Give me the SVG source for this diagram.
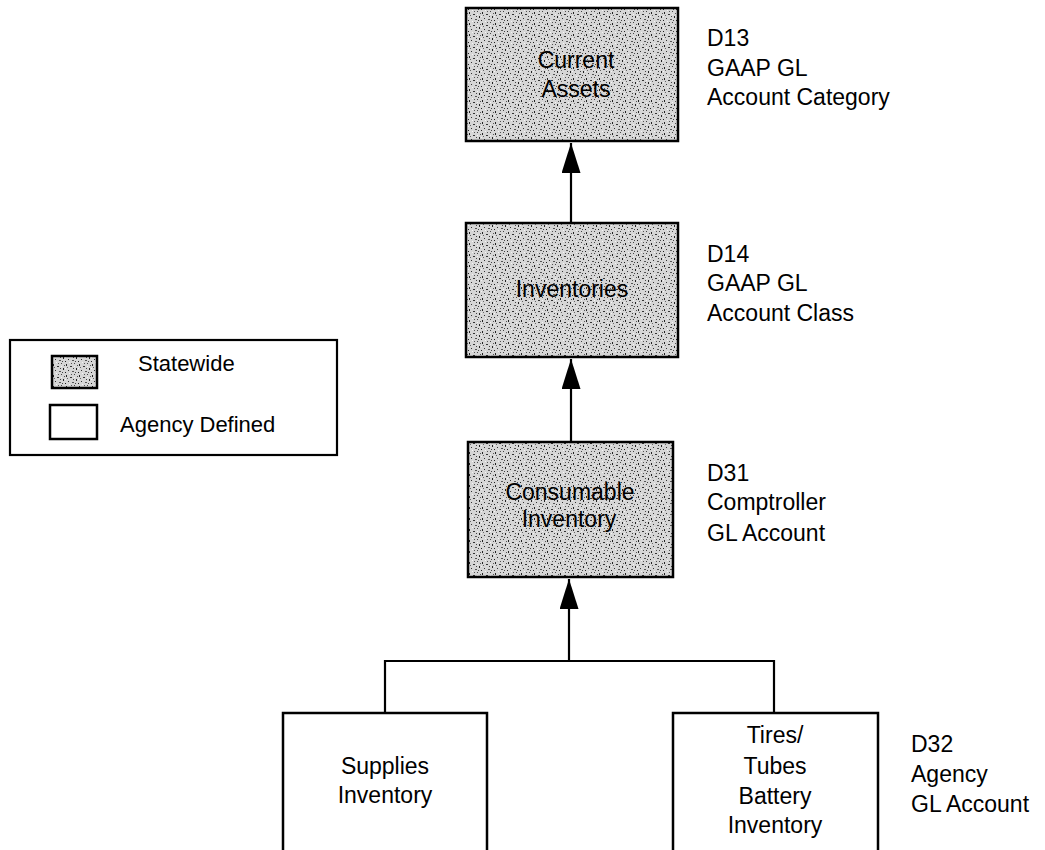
<svg xmlns="http://www.w3.org/2000/svg" width="1045" height="850" viewBox="0 0 1045 850">
<style>
text{font-family:"Liberation Sans",Arial,sans-serif;fill:#000}
.lbl{font-size:23px}
.ctr{font-size:23px;text-anchor:middle}
.leg{font-size:22px}
.shaded{fill:url(#stipple);stroke:#000;stroke-width:2.5}
.plain{fill:#fff;stroke:#000;stroke-width:2.5}
.conn{fill:none;stroke:#000;stroke-width:2.2}
</style>
<defs>
<pattern id="stipple" width="13" height="11" patternUnits="userSpaceOnUse">
<rect width="13" height="11" fill="#d6d6d6"/>
<rect x="1" y="1" width="1" height="2" fill="#222"/>
<rect x="5" y="3" width="2" height="1" fill="#333"/>
<rect x="9" y="0" width="1" height="1" fill="#444"/>
<rect x="11" y="5" width="1" height="2" fill="#222"/>
<rect x="3" y="7" width="1" height="1" fill="#333"/>
<rect x="7" y="8" width="2" height="1" fill="#555"/>
<rect x="0" y="9" width="1" height="1" fill="#222"/>
<rect x="8" y="5" width="1" height="1" fill="#444"/>
<rect x="2" y="4" width="1" height="1" fill="#666"/>
<rect x="10" y="9" width="1" height="1" fill="#444"/>
<rect x="6" y="0" width="1" height="1" fill="#555"/>
<rect x="12" y="2" width="1" height="1" fill="#555"/>
<rect x="4" y="10" width="1" height="1" fill="#f4f4f4"/>
<rect x="9" y="3" width="1" height="1" fill="#f4f4f4"/>
<rect x="0" y="5" width="1" height="1" fill="#f4f4f4"/>
</pattern>
<marker id="arr" markerUnits="userSpaceOnUse" viewBox="0 0 30 19" markerWidth="30" markerHeight="19" refX="30" refY="9.5" orient="auto">
<path d="M0,0 L30,9.5 L0,19 z" fill="#000"/>
</marker>
</defs>

<g id="connectors">
<line class="conn" x1="571" y1="223" x2="571" y2="143" marker-end="url(#arr)"/>
<line class="conn" x1="571" y1="442" x2="571" y2="359" marker-end="url(#arr)"/>
<line class="conn" x1="569" y1="661" x2="569" y2="579" marker-end="url(#arr)"/>
<path class="conn" d="M385,713 V661 H774 V713"/>
</g>

<g id="current-assets">
<rect class="shaded" x="466" y="8" width="212" height="133"/>
<text class="ctr" x="576" y="68">Current</text>
<text class="ctr" x="576" y="97">Assets</text>
</g>
<g id="d13-label">
<text class="lbl" x="707" y="46">D13</text>
<text class="lbl" x="707" y="76">GAAP GL</text>
<text class="lbl" x="707" y="105">Account Category</text>
</g>

<g id="inventories">
<rect class="shaded" x="466" y="223" width="212" height="134"/>
<text class="ctr" x="572" y="297">Inventories</text>
</g>
<g id="d14-label">
<text class="lbl" x="707" y="262">D14</text>
<text class="lbl" x="707" y="291">GAAP GL</text>
<text class="lbl" x="707" y="321">Account Class</text>
</g>

<g id="consumable-inventory">
<rect class="shaded" x="468" y="442" width="205" height="135"/>
<text class="ctr" x="570" y="500">Consumable</text>
<text class="ctr" x="569" y="527">Inventory</text>
</g>
<g id="d31-label">
<text class="lbl" x="707" y="481">D31</text>
<text class="lbl" x="707" y="510">Comptroller</text>
<text class="lbl" x="707" y="541">GL Account</text>
</g>

<g id="supplies-inventory">
<rect class="plain" x="283" y="713" width="204" height="160"/>
<text class="ctr" x="385" y="774">Supplies</text>
<text class="ctr" x="385" y="803">Inventory</text>
</g>

<g id="tires-inventory">
<rect class="plain" x="673" y="713" width="205" height="160"/>
<text class="ctr" x="775" y="743">Tires/</text>
<text class="ctr" x="775" y="774">Tubes</text>
<text class="ctr" x="775" y="804">Battery</text>
<text class="ctr" x="775" y="833">Inventory</text>
</g>
<g id="d32-label">
<text class="lbl" x="911" y="752">D32</text>
<text class="lbl" x="911" y="782">Agency</text>
<text class="lbl" x="911" y="812">GL Account</text>
</g>

<g id="legend">
<rect x="10" y="340" width="327" height="115" fill="#fff" stroke="#000" stroke-width="2.2"/>
<rect class="shaded" x="52" y="356" width="45" height="32" stroke-width="2"/>
<text class="leg" x="138" y="371">Statewide</text>
<rect class="plain" x="50" y="405" width="47" height="34" stroke-width="2"/>
<text class="leg" x="120" y="432">Agency Defined</text>
</g>
</svg>
